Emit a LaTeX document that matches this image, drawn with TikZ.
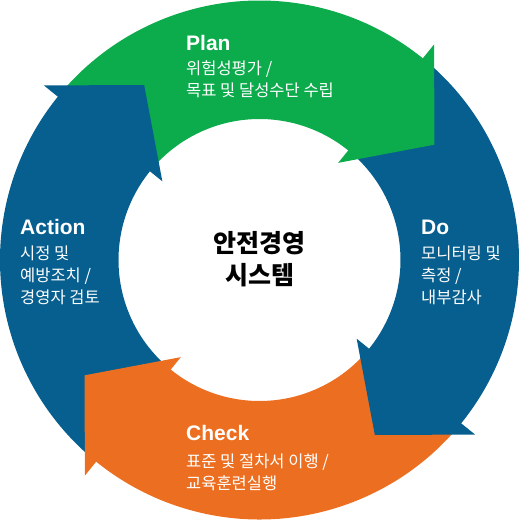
\documentclass[tikz,border=0pt]{standalone}
\usepackage{fontspec}
\setmainfont{Liberation Sans}
\newfontfamily\kr{Noto Sans CJK KR}
\definecolor{pgreen}{RGB}{12,171,76}
\definecolor{pblue}{RGB}{6,95,143}
\definecolor{porange}{RGB}{236,111,33}
\tikzset{
  ttl/.style={anchor=base west, text=white, inner sep=0pt, font=\fontsize{21}{24}\selectfont\bfseries},
  sub/.style={anchor=base west, text=white, inner sep=0pt, font=\kr\fontsize{16.5}{22}\selectfont},
  ctr/.style={anchor=base, text=black, inner sep=0pt, font=\kr\bfseries\fontsize{25}{31}\selectfont}
}
\newcommand{\ringbody}[3]{% start angle, end angle, colour
  \fill[#3] (#1:259.5) arc[start angle=#1, end angle=#2, radius=259.5]
    -- (#2:141) arc[start angle=#2, end angle=#1, radius=141] -- cycle;}
\newcommand{\ringhead}[2]{% base angle, colour
  \fill[#2] (#1:277.5) -- ({#1-17.6}:209.5) -- (#1:125) -- cycle;}
\begin{document}
\begin{tikzpicture}[x=1pt,y=1pt]
\useasboundingbox (-259.5,-260) rectangle (259.5,260);
% bodies
\ringbody{140}{49}{pgreen}
\ringbody{50}{-41}{pblue}
\ringbody{-40}{-131}{porange}
\ringbody{-130}{-221}{pblue}
% heads
\ringhead{51}{pgreen}
\ringhead{-39}{pblue}
\ringhead{-129}{porange}
\ringhead{141}{pblue}
% labels
\node[ttl] (plan) at (-73.5,210) {Plan};
\node[sub] (plan1) at (-73.5,186) {위험성평가 /};
\node[sub] (plan2) at (-73.5,164) {목표 및 달성수단 수립};
\node[ttl] (do) at (161.5,26) {Do};
\node[sub] (do1) at (161.5,1) {모니터링 및};
\node[sub] (do2) at (161.5,-21) {측정 /};
\node[sub] (do3) at (161.5,-43) {내부감사};
\node[ttl] (act) at (-239.5,26) {Action};
\node[sub] (act1) at (-239.5,1) {시정 및};
\node[sub] (act2) at (-239.5,-21) {예방조치 /};
\node[sub] (act3) at (-239.5,-43) {경영자 검토};
\node[ttl] (chk) at (-73.5,-180) {Check};
\node[sub] (chk1) at (-73.5,-207) {표준 및 절차서 이행 /};
\node[sub] (chk2) at (-73.5,-229) {교육훈련실행};
\node[ctr] (ctr1) at (0.5,8) {안전경영};
\node[ctr] (ctr2) at (0.5,-24) {시스템};
\end{tikzpicture}
\end{document}
